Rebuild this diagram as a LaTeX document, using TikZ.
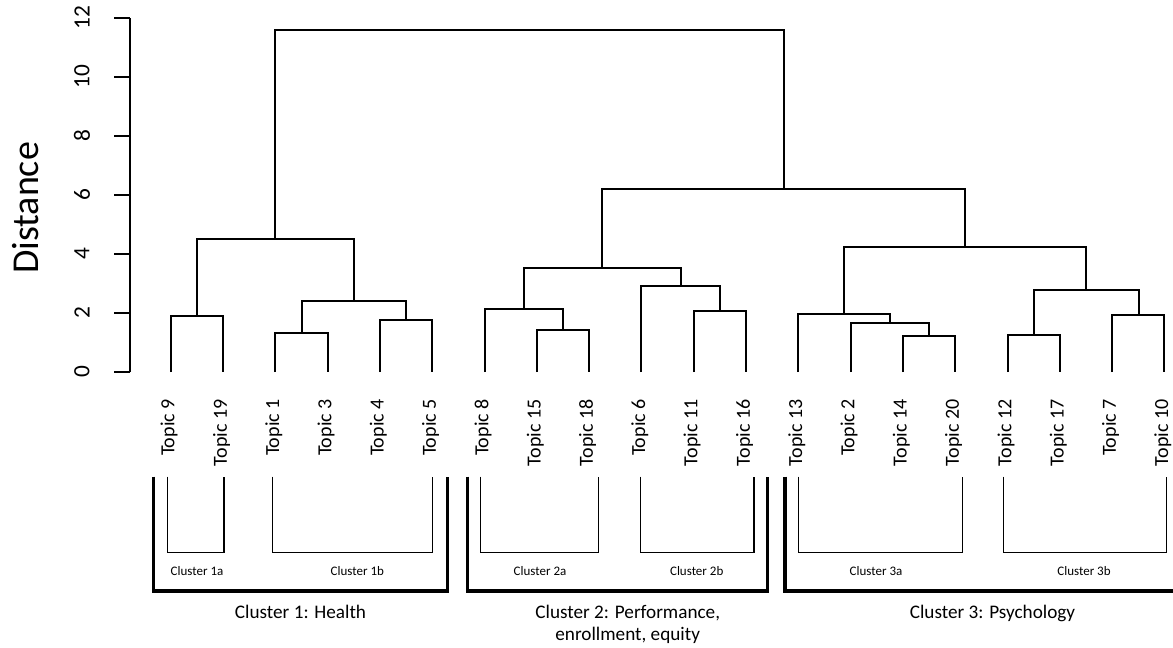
\documentclass[tikz,border=0pt]{standalone}
\usepackage{fontspec}
\setmainfont{Carlito}
\begin{document}
\begin{tikzpicture}[x=0.75pt,y=-0.75pt,
  dendro/.style={line width=1.5pt},
  axisline/.style={line width=1.5pt},
  thinbr/.style={line width=1pt},
  thickbr/.style={line width=2.4pt},
  leaflabel/.style={rotate=90,anchor=east,inner sep=0pt,font=\fontsize{15}{18}\selectfont},
  ticklabel/.style={rotate=90,inner sep=0pt,font=\fontsize{17.5}{20}\selectfont},
  smalllabel/.style={anchor=base,inner sep=0pt,font=\fontsize{9.75}{12}\selectfont},
  biglabel/.style={anchor=base,inner sep=0pt,align=center,font=\fontsize{14.4}{16.7}\selectfont}]
\useasboundingbox (0,0) rectangle (1173,648);

% y axis
\coordinate (A0) at (130,372);
\coordinate (A12) at (130,17.7);
\draw[axisline] (A0) -- (A12);
\foreach \k in {0,2,...,12} {
  \coordinate (tk\k) at (130,{372-29.5*\k});
  \coordinate (te\k) at (114,{372-29.5*\k});
  \draw[axisline] (tk\k) -- (te\k);
  \node[ticklabel] (tl\k) at (82,{372-29.5*\k}) {\k};
}
\node[rotate=90,inner sep=0pt,font=\fontsize{28.5}{32}\selectfont] (ylab) at (26,208) {Distance};

% leaves
\foreach \n [count=\i from 0] in {9,19,1,3,4,5,8,15,18,6,11,16,13,2,14,20,12,17,7,10} {
  \coordinate (L\n) at ({170.7+52.3*\i},372);
  \node[leaflabel] (T\n) at ({169.2+52.3*\i},399) {Topic \n};
}

% merge points
\coordinate (M919) at (197,315.7);
\coordinate (M13) at (301.5,333.3);
\coordinate (M45) at (406.1,319.7);
\coordinate (M1345) at (353.8,300.7);
\coordinate (C1) at (275.4,239);
\coordinate (M1518) at (562.9,330);
\coordinate (M8) at (523.7,309.3);
\coordinate (M1116) at (720.2,310.7);
\coordinate (M6) at (681,286.3);
\coordinate (C2) at (602.3,268);
\coordinate (M1420) at (929.2,336);
\coordinate (M2) at (890,323.3);
\coordinate (M13b) at (844.2,314.3);
\coordinate (M1217) at (1033.9,335);
\coordinate (M710) at (1138.5,315);
\coordinate (C3b) at (1086.2,290);
\coordinate (C3) at (965.2,247.3);
\coordinate (C23) at (783.8,189.3);
\coordinate (R) at (529.6,30);

\draw[dendro] (L9) |- (M919) -| (L19);
\draw[dendro] (L1) |- (M13) -| (L3);
\draw[dendro] (L4) |- (M45) -| (L5);
\draw[dendro] (M13) |- (M1345) -| (M45);
\draw[dendro] (M919) |- (C1) -| (M1345);
\draw[dendro] (L15) |- (M1518) -| (L18);
\draw[dendro] (L8) |- (M8) -| (M1518);
\draw[dendro] (L11) |- (M1116) -| (L16);
\draw[dendro] (L6) |- (M6) -| (M1116);
\draw[dendro] (M8) |- (C2) -| (M6);
\draw[dendro] (L14) |- (M1420) -| (L20);
\draw[dendro] (L2) |- (M2) -| (M1420);
\draw[dendro] (L13) |- (M13b) -| (M2);
\draw[dendro] (L12) |- (M1217) -| (L17);
\draw[dendro] (L7) |- (M710) -| (L10);
\draw[dendro] (M1217) |- (C3b) -| (M710);
\draw[dendro] (M13b) |- (C3) -| (C3b);
\draw[dendro] (C2) |- (C23) -| (C3);
\draw[dendro] (C1) |- (R) -| (C23);

% thin brackets
\coordinate (s1a) at (167.7,476.7); \coordinate (e1a) at (224,552.3); \coordinate (f1a) at (224,476.7);
\coordinate (s1b) at (272.7,476.7); \coordinate (e1b) at (432.3,552.3); \coordinate (f1b) at (432.3,476.7);
\coordinate (s2a) at (480.7,476.7); \coordinate (e2a) at (598.3,552.3); \coordinate (f2a) at (598.3,476.7);
\coordinate (s2b) at (640.7,476.7); \coordinate (e2b) at (754,552.3); \coordinate (f2b) at (754,476.7);
\coordinate (s3a) at (798.3,476.7); \coordinate (e3a) at (962.7,552.3); \coordinate (f3a) at (962.7,476.7);
\coordinate (s3b) at (1003.3,476.7); \coordinate (e3b) at (1166.7,552.3); \coordinate (f3b) at (1166.7,476.7);
\foreach \b in {1a,1b,2a,2b,3a,3b} {
  \draw[thinbr] (s\b) |- (e\b) -- (f\b);
}

% thick brackets
\coordinate (S1) at (153.3,476.7); \coordinate (E1) at (447.3,591); \coordinate (F1) at (447.3,476.7);
\coordinate (S2) at (467.3,476.7); \coordinate (E2) at (767.3,591); \coordinate (F2) at (767.3,476.7);
\coordinate (S3) at (785,476.7); \coordinate (E3) at (1180,591);
\draw[thickbr] (S1) |- (E1) -- (F1);
\draw[thickbr] (S2) |- (E2) -- (F2);
\draw[thickbr] (S3) |- (E3);

% labels
\node[smalllabel] (l1a) at (197,575) {Cluster 1a};
\node[smalllabel] (l1b) at (357.3,575) {Cluster 1b};
\node[smalllabel] (l2a) at (540,575) {Cluster 2a};
\node[smalllabel] (l2b) at (696.7,575) {Cluster 2b};
\node[smalllabel] (l3a) at (876,575) {Cluster 3a};
\node[smalllabel] (l3b) at (1084,575) {Cluster 3b};
\node[biglabel] (g1) at (300.5,618.3) {Cluster 1: Health};
\node[biglabel] (g2) at (627.7,640.6) {Cluster 2: Performance,\\enrollment, equity};
\node[biglabel] (g3) at (992.5,618.3) {Cluster 3: Psychology};
\end{tikzpicture}
\end{document}
